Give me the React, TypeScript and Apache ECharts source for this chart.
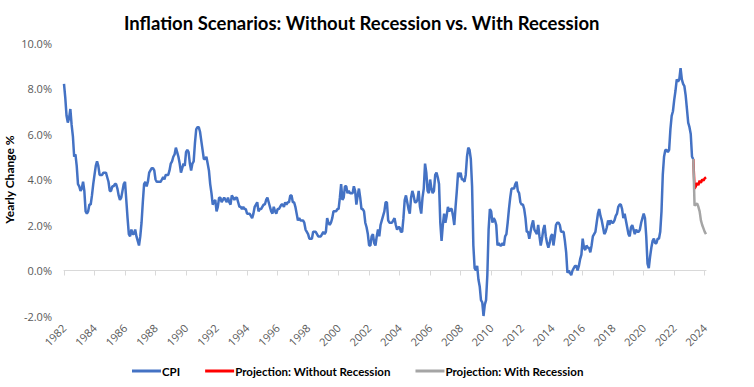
import React, { useEffect, useRef } from "react";
import * as echarts from "echarts";

// US CPI, year-over-year change (%), monthly from Jan 1982 to Apr 2023
const cpiYoY: number[] = [
  8.2, 7.6, 6.8, 6.5, 6.7, 7.1, 6.4, 5.9, 5.0, 5.1, 4.6, 3.8, // 1982
  3.7, 3.5, 3.6, 3.9, 3.5, 2.6, 2.5, 2.6, 2.9, 2.9, 3.3, 3.8, // 1983
  4.2, 4.6, 4.8, 4.6, 4.2, 4.2, 4.2, 4.3, 4.3, 4.3, 4.1, 3.9, // 1984
  3.5, 3.5, 3.7, 3.7, 3.8, 3.8, 3.6, 3.3, 3.1, 3.2, 3.5, 3.8, // 1985
  3.9, 3.1, 2.3, 1.6, 1.5, 1.8, 1.6, 1.6, 1.8, 1.5, 1.3, 1.1, // 1986
  1.5, 2.1, 3.0, 3.8, 3.9, 3.7, 3.9, 4.3, 4.4, 4.5, 4.5, 4.4, // 1987
  4.0, 3.9, 3.9, 3.9, 3.9, 4.0, 4.1, 4.0, 4.2, 4.2, 4.2, 4.4, // 1988
  4.7, 4.8, 5.0, 5.1, 5.4, 5.2, 5.0, 4.7, 4.3, 4.5, 4.7, 4.6, // 1989
  5.2, 5.3, 5.2, 4.7, 4.4, 4.7, 4.8, 5.6, 6.2, 6.3, 6.3, 6.1, // 1990
  5.7, 5.3, 4.9, 4.9, 5.0, 4.7, 4.4, 3.8, 3.4, 2.9, 3.0, 3.1, // 1991
  2.6, 2.8, 3.2, 3.2, 3.0, 3.1, 3.2, 3.1, 3.0, 3.2, 3.0, 2.9, // 1992
  3.3, 3.2, 3.1, 3.2, 3.2, 3.0, 2.8, 2.8, 2.7, 2.8, 2.7, 2.7, // 1993
  2.5, 2.5, 2.5, 2.4, 2.3, 2.5, 2.8, 2.9, 3.0, 2.6, 2.7, 2.7, // 1994
  2.8, 2.9, 2.9, 3.1, 3.2, 3.0, 2.8, 2.6, 2.5, 2.8, 2.6, 2.5, // 1995
  2.7, 2.7, 2.8, 2.9, 2.9, 2.8, 3.0, 2.9, 3.0, 3.0, 3.3, 3.3, // 1996
  3.0, 3.0, 2.8, 2.5, 2.2, 2.3, 2.2, 2.2, 2.2, 2.1, 1.8, 1.7, // 1997
  1.6, 1.4, 1.4, 1.4, 1.7, 1.7, 1.7, 1.6, 1.5, 1.5, 1.5, 1.6, // 1998
  1.7, 1.6, 1.7, 2.3, 2.1, 2.0, 2.1, 2.3, 2.6, 2.6, 2.6, 2.7, // 1999
  2.7, 3.2, 3.8, 3.1, 3.2, 3.7, 3.7, 3.4, 3.5, 3.4, 3.4, 3.4, // 2000
  3.7, 3.5, 2.9, 3.3, 3.6, 3.2, 2.7, 2.7, 2.6, 2.1, 1.9, 1.6, // 2001
  1.1, 1.1, 1.5, 1.6, 1.2, 1.1, 1.5, 1.8, 1.5, 2.0, 2.2, 2.4, // 2002
  2.6, 3.0, 3.0, 2.2, 2.1, 2.1, 2.1, 2.2, 2.3, 2.0, 1.8, 1.9, // 2003
  1.9, 1.7, 1.7, 2.3, 3.1, 3.3, 3.0, 2.7, 2.5, 3.2, 3.5, 3.3, // 2004
  3.0, 3.0, 3.1, 3.5, 2.8, 2.5, 3.2, 3.6, 4.7, 4.3, 3.5, 3.4, // 2005
  4.0, 3.6, 3.4, 3.5, 4.2, 4.3, 4.1, 3.8, 2.1, 1.3, 2.0, 2.5, // 2006
  2.1, 2.4, 2.8, 2.6, 2.7, 2.7, 2.4, 2.0, 2.8, 3.5, 4.3, 4.1, // 2007
  4.3, 4.0, 4.0, 3.9, 4.2, 5.0, 5.4, 5.3, 4.9, 3.7, 1.1, 0.1, // 2008
  0.0, 0.2, -0.4, -0.7, -1.3, -1.4, -2.0, -1.5, -1.3, -0.2, 1.8, 2.7, // 2009
  2.6, 2.1, 2.3, 2.2, 2.0, 1.1, 1.2, 1.1, 1.1, 1.2, 1.1, 1.5, // 2010
  1.6, 2.1, 2.7, 3.2, 3.6, 3.6, 3.6, 3.8, 3.9, 3.5, 3.4, 3.0, // 2011
  2.9, 2.9, 2.7, 2.3, 1.7, 1.7, 1.4, 1.7, 2.0, 2.2, 1.8, 1.7, // 2012
  1.6, 2.0, 1.5, 1.1, 1.4, 1.8, 2.0, 1.5, 1.2, 1.0, 1.2, 1.5, // 2013
  1.6, 1.1, 1.5, 2.0, 2.1, 2.1, 2.0, 1.7, 1.7, 1.7, 1.3, 0.8, // 2014
  -0.1, 0.0, -0.1, -0.2, 0.0, 0.1, 0.2, 0.2, 0.0, 0.2, 0.5, 0.7, // 2015
  1.4, 1.0, 0.9, 1.1, 1.0, 1.0, 0.8, 1.1, 1.5, 1.6, 1.7, 2.1, // 2016
  2.5, 2.7, 2.4, 2.2, 1.9, 1.6, 1.7, 1.9, 2.2, 2.0, 2.2, 2.1, // 2017
  2.1, 2.2, 2.4, 2.5, 2.8, 2.9, 2.9, 2.7, 2.3, 2.5, 2.2, 1.9, // 2018
  1.6, 1.5, 1.9, 2.0, 1.8, 1.6, 1.8, 1.7, 1.7, 1.8, 2.1, 2.3, // 2019
  2.5, 2.3, 1.5, 0.3, 0.1, 0.6, 1.0, 1.3, 1.4, 1.2, 1.2, 1.4, // 2020
  1.4, 1.7, 2.6, 4.2, 5.0, 5.3, 5.3, 5.2, 5.3, 6.2, 6.8, 7.0, // 2021
  7.5, 7.9, 8.4, 8.3, 8.4, 8.9, 8.4, 8.2, 8.1, 7.7, 7.1, 6.5, // 2022
  6.3, 6.0, 5.0, 4.9, // 2023
];

// Projections, monthly from Apr 2023 (last CPI reading) onward
const projWithoutRecession: number[] = [4.9, 3.6, 3.7, 3.85, 3.75, 3.95, 3.85, 4.0, 3.95, 4.05, 4.1];
const projWithRecession: number[] = [4.9, 2.85, 2.9, 2.95, 2.8, 2.6, 2.2, 2.0, 1.85, 1.7, 1.6];

const startYear = 1982;
const yMin = -2;
const yMax = 10;
const yStep = 2;

const seriesNames = ["CPI", "Projection: Without Recession", "Projection: With Recession"];
const seriesColors = ["#4472C4", "#FF0000", "#A5A5A5"];

const projStart = cpiYoY.length - 1;
const totalMonths = projStart + projWithoutRecession.length;
const categories: string[] = Array.from({ length: totalMonths }, (_, i) =>
  `${startYear + Math.floor(i / 12)}-${String((i % 12) + 1).padStart(2, "0")}`
);
const pad = (arr: number[]) =>
  (new Array(projStart).fill(null) as (number | null)[]).concat(arr);

const everyTwoYears = (i: number) => i % 24 === 0;

export default function App() {
  const ref = useRef<HTMLDivElement>(null);
  useEffect(() => {
    document.body.style.margin = "0";
    if (!ref.current) return;
    const chart = echarts.init(ref.current, null, { renderer: "svg" });
    const labelColor = "#595959";
    chart.setOption({
      animation: false,
      backgroundColor: "#fff",
      title: {
        text: "Inflation Scenarios: Without Recession vs. With Recession",
        left: 119,
        top: 8,
        textStyle: { fontFamily: "Lato", fontWeight: "bold", fontSize: 18.5, color: "#000" },
      },
      grid: { left: 64, right: 48, top: 43, bottom: 71, containLabel: false, outerBoundsMode: "none" },
      legend: {
        bottom: 5,
        left: 127,
        icon: "rect",
        itemWidth: 29,
        itemHeight: 3,
        itemGap: 25,
        data: seriesNames,
        textStyle: { fontFamily: "Lato", fontWeight: "bold", fontSize: 11.5, color: "#000", padding: [0, 0, 0, -4] },
      },
      xAxis: [
        {
          type: "category",
          data: categories,
          boundaryGap: false,
          position: "bottom",
          axisLine: { show: false, onZero: false },
          axisTick: { show: false },
          splitLine: { show: false },
          axisLabel: {
            interval: everyTwoYears,
            formatter: (v: string) => v.slice(0, 4),
            rotate: 45,
            color: labelColor,
            fontFamily: "Open Sans",
            fontSize: 11,
            margin: 10,
          },
        },
        {
          type: "category",
          data: categories,
          boundaryGap: false,
          position: "bottom",
          axisLine: { show: true, onZero: true, lineStyle: { color: "#D9D9D9", width: 1 } },
          axisTick: { show: true, interval: everyTwoYears, length: 5, lineStyle: { color: "#D9D9D9" } },
          axisLabel: { show: false },
          splitLine: { show: false },
        },
      ],
      yAxis: {
        type: "value",
        min: yMin,
        max: yMax,
        interval: yStep,
        axisLine: { show: false },
        axisTick: { show: false },
        splitLine: { show: false },
        axisLabel: {
          formatter: (v: number) => v.toFixed(1) + "%",
          color: labelColor,
          fontFamily: "Open Sans",
          fontSize: 11,
          margin: 12,
        },
        name: "Yearly Change %",
        nameLocation: "middle",
        nameGap: 49,
        nameMoveOverlap: false,
        nameTextStyle: { fontFamily: "Lato", fontWeight: "bold", fontSize: 12, color: "#000" },
      },
      series: [
        {
          name: seriesNames[0],
          type: "line",
          data: cpiYoY,
          showSymbol: false,
          symbol: "none",
          color: seriesColors[0],
          lineStyle: { width: 2.5, color: seriesColors[0] },
        },
        {
          name: seriesNames[1],
          type: "line",
          data: pad(projWithoutRecession),
          showSymbol: false,
          symbol: "none",
          color: seriesColors[1],
          lineStyle: { width: 2.5, color: seriesColors[1] },
        },
        {
          name: seriesNames[2],
          type: "line",
          data: pad(projWithRecession),
          showSymbol: false,
          symbol: "none",
          color: seriesColors[2],
          lineStyle: { width: 2.5, color: seriesColors[2] },
        },
      ],
    });
    return () => chart.dispose();
  }, []);
  return <div ref={ref} style={{ width: 754, height: 387 }} />;
}
